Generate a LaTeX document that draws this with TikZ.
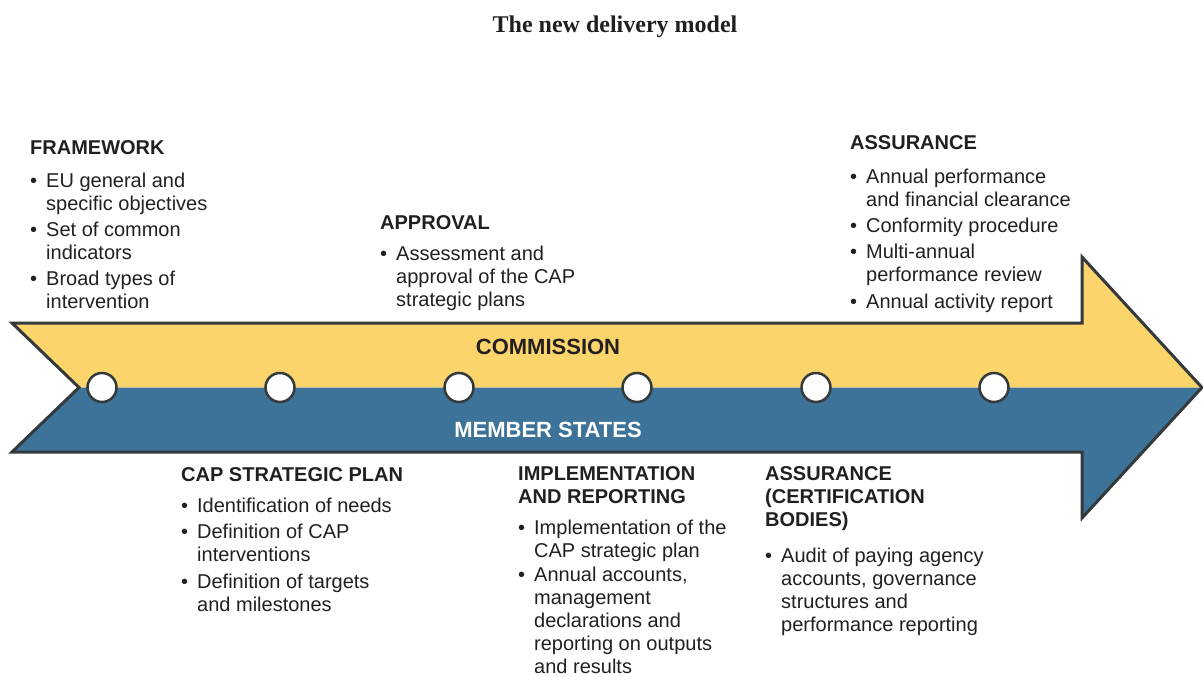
\documentclass[tikz,border=0pt]{standalone}
\usepackage{fontspec}
\setmainfont{Liberation Sans}
\newfontfamily\titleserif{Liberation Serif}
\usetikzlibrary{positioning}
\definecolor{dmYellow}{RGB}{251,213,107}
\definecolor{dmBlue}{RGB}{62,115,153}
\definecolor{dmGray}{RGB}{52,57,60}
\definecolor{dmText}{RGB}{35,31,32}
\newcommand{\bul}{\makebox[16pt][l]{\textbullet}}
\newcommand{\ind}{\hspace*{16pt}}

\tikzset{
  stage/.style={circle, draw=dmGray, fill=white, line width=2.5pt, minimum size=29pt, inner sep=0pt},
  block/.style={anchor=north west, align=left, inner sep=0pt, text=dmText, font=\fontsize{20}{23}\selectfont},
  band/.style={anchor=base, inner sep=0pt, font=\bfseries\fontsize{22}{26}\selectfont}
}

\begin{document}
\begin{tikzpicture}[x=1pt,y=-1pt]
  \useasboundingbox (0,0) rectangle (1203,677);
  % Title
  \node[anchor=base, text=dmText, font=\titleserif\bfseries\fontsize{24}{28}\selectfont] (title) at (615,33) {The new delivery model};

  % Arrow: commission half and member states half
  \fill[dmYellow] (12,323) -- (1082,323) -- (1082,257) -- (1202,387.5) -- (79,387.5) -- cycle;
  \fill[dmBlue] (79,387.5) -- (1202,387.5) -- (1082,518) -- (1082,452) -- (12,452) -- cycle;
  \draw[dmGray, line width=3pt, line join=miter] (12,323) -- (1082,323) -- (1082,257) -- (1202,387.5)
    -- (1082,518) -- (1082,452) -- (12,452) -- (79,387.5) -- cycle;

  \node[band, text=dmText] (comm) at (548,354) {COMMISSION};
  \node[band, text=white] (ms) at (548,437) {MEMBER STATES};

  % Milestones
  \foreach \i/\x in {1/102,2/280,3/459,4/637,5/816,6/994}
    \node[stage] (s\i) at (\x,387.5) {};

  % Commission side
  \node[block] (framework) at (30,137.9) {\strut\textbf{FRAMEWORK}\\[10pt]
    \bul EU general and\\ \ind specific objectives\\[3pt]
    \bul Set of common\\ \ind indicators\\[3pt]
    \bul Broad types of\\ \ind intervention};
  \node[block] (approval) at (380,212.9) {\strut\textbf{APPROVAL}\\[8pt]
    \bul Assessment and\\ \ind approval of the CAP\\ \ind strategic plans};
  \node[block] (assurance) at (850,132.9) {\strut\textbf{ASSURANCE}\\[11pt]
    \bul Annual performance\\ \ind and financial clearance\\[3pt]
    \bul Conformity procedure\\[3pt]
    \bul Multi-annual\\ \ind performance review\\[4pt]
    \bul Annual activity report};

  % Member states side
  \node[block] (plan) at (181,464.9) {\strut\textbf{CAP STRATEGIC PLAN}\\[8pt]
    \bul Identification of needs\\[3pt]
    \bul Definition of CAP\\ \ind interventions\\[4pt]
    \bul Definition of targets\\ \ind and milestones};
  \node[block] (implement) at (518,463.9) {\strut\textbf{IMPLEMENTATION}\\ \textbf{AND REPORTING}\\[8pt]
    \bul Implementation of the\\ \ind CAP strategic plan\\[1pt]
    \bul Annual accounts,\\ \ind management\\ \ind declarations and\\ \ind reporting on outputs\\ \ind and results};
  \node[block] (certify) at (765,463.9) {\strut\textbf{ASSURANCE}\\ \textbf{(CERTIFICATION}\\ \textbf{BODIES)}\\[13pt]
    \bul Audit of paying agency\\ \ind accounts, governance\\ \ind structures and\\ \ind performance reporting};
\end{tikzpicture}
\end{document}
